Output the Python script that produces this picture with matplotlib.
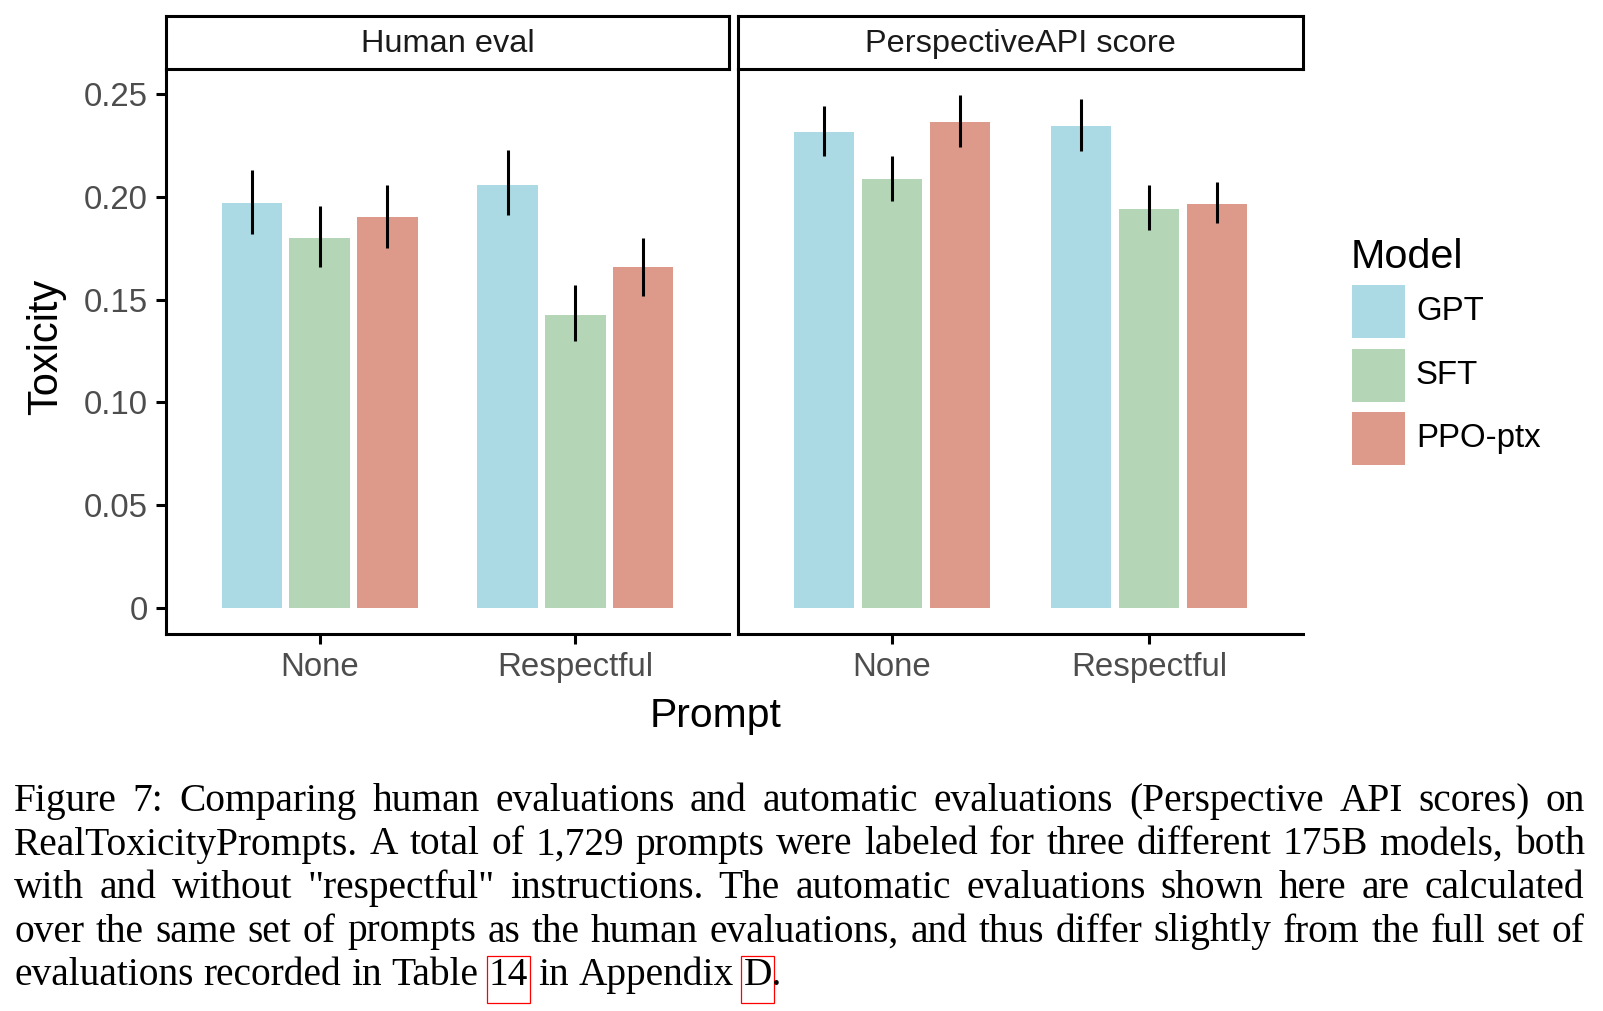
import matplotlib
matplotlib.use("Agg")
import matplotlib.pyplot as plt
from matplotlib.patches import Rectangle
import numpy as np

prompts = ["None", "Respectful"]
models = ["GPT", "SFT", "PPO-ptx"]
colors = ["#abdae4", "#b4d6b6", "#dd9a8a"]
panel_titles = ["Human eval", "PerspectiveAPI score"]

# toxicity per model, (None, Respectful)
human_mean = [[0.197, 0.206], [0.180, 0.1425], [0.190, 0.166]]
human_lo = [[0.182, 0.191], [0.166, 0.130], [0.175, 0.152]]
human_hi = [[0.213, 0.223], [0.1955, 0.157], [0.206, 0.180]]

api_mean = [[0.2316, 0.2344], [0.2086, 0.1941], [0.2364, 0.1965]]
api_lo = [[0.220, 0.2225], [0.198, 0.184], [0.2243, 0.1874]]
api_hi = [[0.244, 0.2475], [0.220, 0.2058], [0.2496, 0.2072]]

yticks = [0, 0.05, 0.10, 0.15, 0.20, 0.25]
ytick_labels = ["0", "0.05", "0.10", "0.15", "0.20", "0.25"]

caption_lines = [
    "Figure 7:  Comparing human evaluations and automatic evaluations (Perspective API scores) on",
    "RealToxicityPrompts. A total of 1,729 prompts were labeled for three different 175B models, both",
    'with and without "respectful" instructions.  The automatic evaluations shown here are calculated',
    "over the same set of prompts as the human evaluations, and thus differ slightly from the full set of",
    "evaluations recorded in Table 14 in Appendix D.",
]
linked = ["14", "D"]

W, H = 1603, 1011
plt.rcParams["font.family"] = ["Liberation Sans", "DejaVu Sans"]
fig = plt.figure(figsize=(W / 100, H / 100), dpi=100)

def box(x0, x1, y0, y1):
    return [x0 / W, 1 - y1 / H, (x1 - x0) / W, (y1 - y0) / H]

panel_x = [(166, 729), (738, 1303)]
data = [(human_mean, human_lo, human_hi), (api_mean, api_lo, api_hi)]
x = np.arange(len(prompts))
lw = 2.2

for p, ((x0, x1), (mean, lo, hi)) in enumerate(zip(panel_x, data)):
    ax = fig.add_axes(box(x0, x1, 69, 633.5))
    for i, m in enumerate(models):
        off = (i - 1) * 0.265
        ax.bar(x + off, mean[i], width=0.236, color=colors[i], linewidth=0)
        ax.vlines(x + off, lo[i], hi[i], color="black", lw=lw)
    ax.set_xlim(-0.6, 1.6)
    ax.set_ylim(-0.0124, 0.2622)
    ax.set_xticks(x)
    ax.set_xticklabels(prompts)
    ax.set_yticks(yticks)
    ax.set_yticklabels(ytick_labels)
    for s in ["top", "right"]:
        ax.spines[s].set_visible(False)
    for s in ["left", "bottom"]:
        ax.spines[s].set_linewidth(lw)
    ax.tick_params(axis="both", length=7.5, width=lw, labelsize=23.8,
                   labelcolor="#4d4d4d", color="black")
    ax.tick_params(axis="x", pad=6)
    ax.tick_params(axis="y", pad=5.5)
    if p == 1:
        ax.tick_params(axis="y", left=False, labelleft=False)

    # facet strip
    st = fig.add_axes(box(x0, x1, 16, 69))
    st.set_xticks([])
    st.set_yticks([])
    for s in st.spines.values():
        s.set_linewidth(lw)
    st.text(0.5, 0.48, panel_titles[p], ha="center", va="center",
            fontsize=23.4, color="#1a1a1a", transform=st.transAxes)

fig.text(46 / W, 1 - 347 / H, "Toxicity", rotation=90, ha="center",
         va="center", fontsize=30)
fig.text(715.6 / W, 1 - 727 / H, "Prompt", ha="center", va="baseline",
         fontsize=29.4)

# legend
fig.text(1351 / W, 1 - 268 / H, "Model", ha="left", va="baseline", fontsize=29.8)
for i, m in enumerate(models):
    top = 285 + 63.5 * i
    fig.add_artist(Rectangle((1352 / W, 1 - (top + 53) / H), 53 / W, 53 / H,
                             facecolor=colors[i], edgecolor="none",
                             transform=fig.transFigure))
    fig.text(1416 / W, 1 - (top + 35) / H, m, ha="left", va="baseline",
             fontsize=23.8)

# caption, justified like the paper
renderer = fig.canvas.get_renderer()
cap_font = dict(family="Liberation Serif", fontsize=28.4, color="black")

def width(s):
    t = fig.text(0, 0, s, **cap_font)
    w = t.get_window_extent(renderer).width
    t.remove()
    return w

left, right = 14.3, 1584.6
space = width("a a") - width("aa")
for k, line in enumerate(caption_lines):
    words = line.split()
    widths = [width(w) for w in words]
    base = 811 + 43.5 * k
    if k < len(caption_lines) - 1:
        gap = (right - left - sum(widths)) / (len(words) - 1)
    else:
        gap = space
    xpos = left
    for w, wd in zip(words, widths):
        fig.text(xpos / W, 1 - base / H, w, va="baseline", ha="left", **cap_font)
        core = w.rstrip(".")
        if core in linked and k == len(caption_lines) - 1:
            cw = width(core)
            fig.add_artist(Rectangle(((xpos - 2) / W, 1 - (base + 18) / H),
                                     (cw + 4) / W, 47 / H, fill=False,
                                     edgecolor="red", lw=0.9,
                                     transform=fig.transFigure))
        xpos += wd + gap

fig.savefig("out.png", dpi=100)
